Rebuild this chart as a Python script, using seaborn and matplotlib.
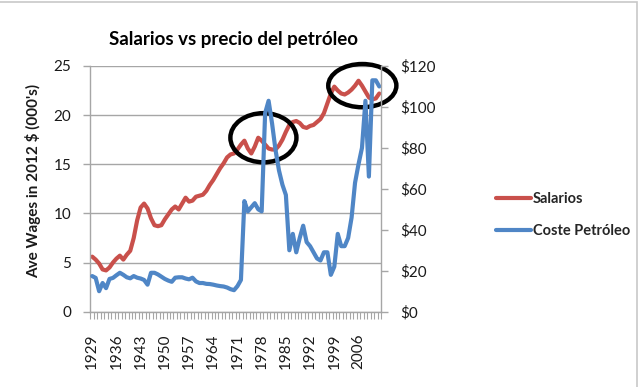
import matplotlib
matplotlib.use("Agg")
import matplotlib.pyplot as plt
import seaborn as sns
import pandas as pd
from matplotlib.patches import Ellipse, Rectangle
from matplotlib.ticker import FuncFormatter

# data
years = list(range(1929, 2013))
wages = [5.6, 5.3, 4.9, 4.3, 4.2, 4.5, 5.0, 5.4, 5.7, 5.3,
         5.8, 6.2, 7.5, 9.3, 10.6, 11.0, 10.5, 9.5, 8.8, 8.7,
         8.8, 9.4, 9.9, 10.4, 10.7, 10.4, 11.0, 11.6, 11.2, 11.3,
         11.7, 11.8, 11.9, 12.3, 12.9, 13.4, 14.0, 14.6, 15.1, 15.7,
         16.0, 16.1, 16.5, 17.0, 17.4, 16.6, 16.1, 16.8, 17.7, 17.4,
         17.0, 16.6, 16.5, 16.5, 16.9, 17.5, 18.3, 19.0, 19.3, 19.4,
         19.2, 18.8, 18.7, 18.9, 19.0, 19.3, 19.6, 20.2, 21.2, 22.2,
         22.9, 22.5, 22.2, 22.1, 22.3, 22.6, 23.0, 23.5, 23.0, 22.4,
         21.8, 21.6, 21.7, 22.2]
oil = [17.4, 16.5, 10.0, 14.0, 11.5, 16.0, 16.5, 17.8, 19.0, 18.0,
       16.8, 16.3, 17.4, 16.6, 16.2, 15.5, 13.2, 19.0, 19.0, 18.2,
       17.1, 16.0, 15.2, 14.6, 16.6, 16.8, 16.8, 16.2, 15.8, 16.6,
       14.8, 14.0, 14.0, 13.6, 13.5, 13.2, 12.8, 12.5, 12.3, 11.8,
       11.0, 10.5, 12.5, 15.5, 54.0, 49.0, 51.0, 53.0, 50.0, 49.0,
       97.0, 103.0, 92.0, 79.0, 69.0, 62.0, 57.0, 30.0, 38.0, 29.0,
       36.0, 42.0, 34.0, 32.0, 29.0, 26.0, 25.0, 29.0, 29.0, 18.0,
       22.0, 38.0, 32.0, 32.0, 36.0, 46.0, 63.0, 72.0, 80.0, 103.0,
       66.0, 113.0, 113.0, 110.0]
tick_years = [1929, 1936, 1943, 1950, 1957, 1964, 1971, 1978, 1985, 1992, 1999, 2006]
# highlighted periods: (centre year, centre wage, width in years, height in wage units)
highlights = [(1978.5, 17.7, 19.1, 5.0), (2007.1, 23.0, 19.7, 4.4)]

sns.set_style("white")
plt.rcParams['font.family'] = ['Lato', 'DejaVu Sans']

df = pd.DataFrame({"year": years, "Salarios": wages, "Coste Petróleo": oil})

red = '#C9504B'
blue = '#4F86C6'
grey = '#A6A6A6'
txt = '#1a1a1a'

fig = plt.figure(figsize=(6.44, 3.87), dpi=100)
ax = fig.add_axes([0.1405, 0.1946, 0.4511, 0.6349])
ax2 = ax.twinx()

sns.lineplot(data=df, x='year', y='Salarios', ax=ax, color=red, lw=3, legend=False)
sns.lineplot(data=df, x='year', y='Coste Petróleo', ax=ax2, color=blue, lw=3, legend=False)

for cx, cy, w, h in highlights:
    ax.add_patch(Ellipse((cx, cy), w, h, fill=False, edgecolor='black', lw=3.2,
                         clip_on=False, zorder=5))

ax.set_xlim(1928.5, 2012.5)
ax.set_ylim(0, 25)
ax2.set_ylim(0, 120)
ax.set_yticks(range(0, 26, 5))
ax2.set_yticks(range(0, 121, 20))
ax2.yaxis.set_major_formatter(FuncFormatter(lambda v, p: f"${int(v)}"))
ax.set_xticks(tick_years)
ax.set_xticklabels([str(y) for y in tick_years], rotation=90)
ax.set_xticks([y - 0.5 for y in years] + [years[-1] + 0.5], minor=True)

ax.set_xlabel('')
ax.set_ylabel('')
ax2.set_ylabel('')

ax.yaxis.grid(True, color=grey, lw=1)
ax.set_axisbelow(True)

for s in ['top', 'right']:
    ax.spines[s].set_visible(False)
for s in ['top', 'left', 'bottom']:
    ax2.spines[s].set_visible(False)
for a, s in [(ax, 'left'), (ax, 'bottom'), (ax2, 'right')]:
    a.spines[s].set_color(grey)
    a.spines[s].set_linewidth(1)

ax.tick_params(axis='y', direction='out', length=5, width=1, color=grey,
               labelsize=11, labelcolor=txt, pad=9, left=True)
ax2.tick_params(axis='y', direction='out', length=5, width=1, color=grey,
                labelsize=11, labelcolor=txt, pad=9, right=True)
ax.tick_params(axis='x', which='major', length=0, labelsize=11, labelcolor=txt, pad=16)
ax.tick_params(axis='x', which='minor', direction='out', length=5, width=0.8,
               color=grey, bottom=True)
ax2.tick_params(axis='x', which='both', length=0)

fig.text(0.363, 0.899, 'Salarios vs precio del petróleo', ha='center', va='center',
         fontsize=13.5, fontweight='bold', color='black')
fig.text(0.051, 0.532, "Ave Wages in 2012 $ (000's)", ha='center', va='center',
         rotation=90, fontsize=11, fontweight='bold', color=txt)

handles = [plt.Line2D([], [], color=red, lw=3), plt.Line2D([], [], color=blue, lw=3)]
fig.legend(handles, ['Salarios', 'Coste Petróleo'], loc='upper left',
           bbox_to_anchor=(0.770, 0.503), frameon=False, handlelength=2.4,
           handletextpad=0.15, labelspacing=1.2, borderpad=0, borderaxespad=0,
           prop={'weight': 'bold', 'size': 10.5})

fig.patches.append(Rectangle((-0.01, -0.01), 0.9984, 1.0061, transform=fig.transFigure,
                             fill=False, edgecolor='#C8C8C8', lw=1.2))

fig.savefig('out.png', dpi=100)
